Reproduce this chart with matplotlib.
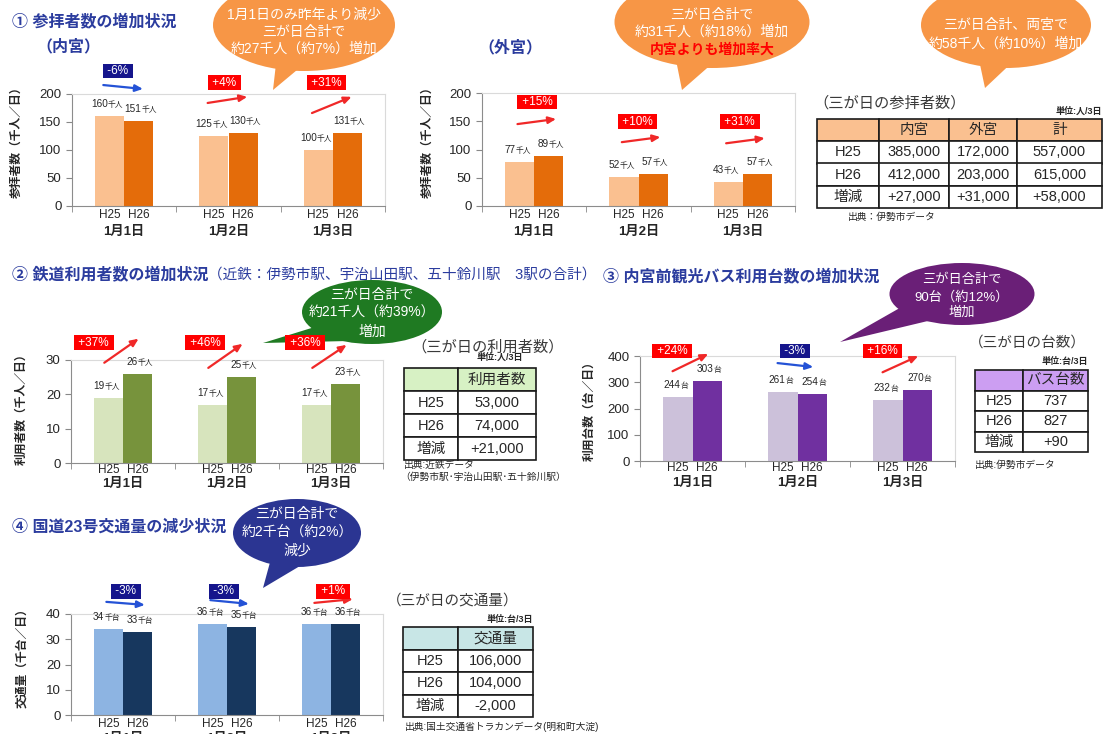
import numpy as np
import matplotlib
matplotlib.use("Agg")
from matplotlib import pyplot as plt
from matplotlib.patches import Ellipse, Polygon

plt.rcParams['font.family'] = ['Liberation Sans', 'Noto Sans CJK JP']

# ---------------- data ----------------
days = ["1月1日", "1月2日", "1月3日"]
years = ["H25", "H26"]

naigu_h25 = [160, 125, 100]   # 内宮 参拝者数 (千人/日)
naigu_h26 = [151, 130, 131]
naigu_pct = ["-6%", "+4%", "+31%"]

gegu_h25 = [77, 52, 43]       # 外宮
gegu_h26 = [89, 57, 57]
gegu_pct = ["+15%", "+10%", "+31%"]

rail_h25 = [19, 17, 17]       # 鉄道利用者数 (千人/日)
rail_h26 = [26, 25, 23]
rail_pct = ["+37%", "+46%", "+36%"]

bus_h25 = [244, 261, 232]     # 観光バス (台/日)
bus_h26 = [303, 254, 270]
bus_pct = ["+24%", "-3%", "+16%"]

road_h25 = [34, 36, 36]       # 国道23号 (千台/日)
road_h26 = [33, 35, 36]
road_pct = ["-3%", "-3%", "+1%"]

# tables
row_names = ["H25", "H26", "増減"]
sanpai_naigu = ["385,000", "412,000", "+27,000"]
sanpai_gegu = ["172,000", "203,000", "+31,000"]
sanpai_total = ["557,000", "615,000", "+58,000"]
rail_total = ["53,000", "74,000", "+21,000"]
bus_total = ["737", "827", "+90"]
road_total = ["106,000", "104,000", "-2,000"]

# ---------------- figure ----------------
W, H = 1105, 734
fig = plt.figure(figsize=(W / 100, H / 100), dpi=100)
TITLE = '#2B3C9E'
TXT = '#262626'


def box(l, t, r, b):
    # axes from pixel box (left, top, right, bottom)
    return fig.add_axes([l / W, 1 - b / H, (r - l) / W, (b - t) / H])


def value_label(ax, x, v, unit, shift, fs=7.2, fsu=5.6):
    num = str(v)
    wn = len(num) * 0.556 * fs
    wu = len(unit) * fsu
    dx = wn - (wn + wu) / 2 + shift
    ax.annotate(num, (x, v), xytext=(dx, 6.5), textcoords='offset points',
                ha='right', va='baseline', fontsize=fs, color=TXT)
    ax.annotate(unit, (x, v), xytext=(dx, 6.5), textcoords='offset points',
                ha='left', va='baseline', fontsize=fsu, color=TXT)


def bar_panel(rect, h25, h26, c25, c26, ymax, step, unit, pct, lay, pad, date_off):
    ax = box(*rect)
    ax.set_facecolor('none')
    x = np.arange(3)
    ax.bar(x - 0.14, h25, 0.28, color=c25, zorder=2)
    ax.bar(x + 0.14, h26, 0.28, color=c26, zorder=2)
    ax.set_xlim(-0.5, 2.5)
    ax.set_ylim(0, ymax)
    ax.set_yticks(np.arange(0, ymax + 1, step))
    ax.tick_params(axis='y', labelsize=9.5, colors=TXT, length=4, color='#888888')
    ax.set_xticks([-0.14, 0.14, 0.86, 1.14, 1.86, 2.14])
    ax.set_xticklabels(years * 3, fontsize=8.5, color=TXT)
    ax.tick_params(axis='x', length=0, pad=pad)
    ax.set_xticks([-0.5, 0.5, 1.5, 2.5], minor=True)
    ax.tick_params(axis='x', which='minor', length=4, color='#888888')
    for s in ['left', 'bottom']:
        ax.spines[s].set_color('#8C8C8C')
    for s in ['top', 'right']:
        ax.spines[s].set_color('#DADADA')
        ax.spines[s].set_linewidth(0.8)
    for i in range(3):
        value_label(ax, i - 0.14, h25[i], unit, -1.5)
        value_label(ax, i + 0.14, h26[i], unit, 1.5)
        ax.annotate(days[i], (i, 0), xycoords=('data', 'axes fraction'),
                    xytext=(0, -date_off), textcoords='offset points',
                    ha='center', va='center', fontsize=9.5, fontweight='bold',
                    color=TXT, annotation_clip=False)
        # change-rate box and arrow
        up = pct[i].startswith('+')
        ax.text(i + lay['dx'][i], lay['by'][i], " " + pct[i] + " ", ha='center', va='center',
                color='white', fontsize=8.5,
                bbox=dict(boxstyle='square,pad=0.12', fc='#FF0000' if up else '#15158C', ec='none'),
                clip_on=False, zorder=5)
        ay0, ay1 = lay['ay'][i]
        ax.annotate('', xy=(i + lay['ax'][1], ay1), xytext=(i + lay['ax'][0], ay0),
                    arrowprops=dict(arrowstyle='-|>,head_length=0.45,head_width=0.2',
                                    color='#F02828' if up else '#2452D6', lw=1.6,
                                    shrinkA=0, shrinkB=0),
                    annotation_clip=False)
    return ax


# ① 内宮
bar_panel((72, 94, 385, 206), naigu_h25, naigu_h26, '#FAC090', '#E46C0A', 200, 50, '千人',
          naigu_pct,
          dict(dx=[-0.06, -0.04, -0.06], by=[241, 220, 220],
               ax=(-0.2, 0.18), ay=[(216, 209), (184, 195), (166, 195)]),
          2, 19)
# ① 外宮
bar_panel((482, 93, 795, 206), gegu_h25, gegu_h26, '#FAC090', '#E46C0A', 200, 50, '千人',
          gegu_pct,
          dict(dx=[0.03, -0.01, -0.03], by=[184, 149, 149],
               ax=(-0.16, 0.21), ay=[(145, 154), (113, 122), (111, 120)]),
          2, 19)
# ② 鉄道
bar_panel((71, 360, 383, 463), rail_h25, rail_h26, '#D7E4BD', '#77933C', 30, 10, '千人',
          rail_pct,
          dict(dx=[-0.28, -0.21, -0.25], by=[35, 35, 35],
               ax=(-0.18, 0.15), ay=[(29.2, 36.2), (27.7, 34.7), (27.7, 34.4)]),
          1, 15)
# ③ バス
bar_panel((640, 356, 955, 461), bus_h25, bus_h26, '#CCC1DA', '#7030A0', 400, 100, '台',
          bus_pct,
          dict(dx=[-0.195, -0.024, -0.19], by=[419, 419, 419],
               ax=(-0.19, 0.15), ay=[(342, 408), (373, 358), (338, 400)]),
          1, 16)
# ④ 国道23号
bar_panel((71, 614, 383, 715), road_h25, road_h26, '#8DB4E2', '#17375E', 40, 10, '千台',
          road_pct,
          dict(dx=[0.03, -0.03, 0.02], by=[49, 49, 49],
               ax=(-0.16, 0.21), ay=[(44.8, 43.6), (45.5, 44.0), (44.4, 45.9)]),
          2, 17)


# ---------------- tables ----------------
def table(rect, header, cols, colw, hdr, fs):
    ax = box(*rect)
    ax.axis('off')
    cells = [header] + [[row_names[i]] + [c[i] for c in cols] for i in range(3)]
    colors = [[hdr] * len(header)] + [['white'] * len(header) for _ in range(3)]
    tb = ax.table(cellText=cells, cellColours=colors, colWidths=colw,
                  cellLoc='center', bbox=[0, 0, 1, 1])
    tb.auto_set_font_size(False)
    tb.set_fontsize(fs)
    for cell in tb.get_celld().values():
        cell.set_linewidth(1.2)
        cell.set_edgecolor('#1A1A1A')
        cell.get_text().set_color(TXT)


table((817, 119, 1102, 208), ["", "内宮", "外宮", "計"],
      [sanpai_naigu, sanpai_gegu, sanpai_total], [62, 70, 68, 85], '#FAC090', 10.5)
table((404, 368, 536, 460), ["", "利用者数"], [rail_total], [54, 78], '#D7F1C4', 10.5)
table((975, 370, 1088, 452), ["", "バス台数"], [bus_total], [48, 65], '#CC9EF2', 10.5)
table((403, 627, 533, 717), ["", "交通量"], [road_total], [55, 75], '#C8E6E6', 10.5)

# ---------------- overlay (drawn under the charts): titles, bubbles, notes ----------------
ov = fig.add_axes([0, 0, 1, 1])
ov.set_zorder(-1)
ov.set_xlim(0, W)
ov.set_ylim(H, 0)
ov.axis('off')


def bubble(cx, cy, w, h, tail, color, lines, fs=10):
    ov.add_patch(Ellipse((cx, cy), w, h, fc=color, ec='none'))
    ov.add_patch(Polygon(tail, closed=True, fc=color, ec='none'))
    for item in lines:
        text, y = item[0], item[1]
        col = item[2] if len(item) > 2 else 'white'
        ov.text(cx, y, text, ha='center', va='center', fontsize=fs, color=col,
                fontweight='bold' if col != 'white' else 'normal')


ORANGE = '#F79646'
bubble(304, 25, 182, 92, [(277, 55), (315, 55), (273, 90)], ORANGE,
       [("1月1日のみ昨年より減少", 15), ("三が日合計で", 32), ("約27千人（約7%）増加", 49)])
bubble(712, 22, 195, 92, [(675, 55), (722, 55), (682, 90)], ORANGE,
       [("三が日合計で", 15), ("約31千人（約18%）増加", 32), ("内宮よりも増加率大", 50, '#FF0000')])
bubble(1006, 25, 170, 86, [(978, 55), (1020, 55), (985, 88)], ORANGE,
       [("三が日合計、両宮で", 25), ("約58千人（約10%）増加", 44)])
bubble(372, 312, 140, 64, [(318, 326), (348, 341), (263, 343)], '#1F7A22',
       [("三が日合計で", 295), ("約21千人（約39%）", 313), ("増加", 332)])
bubble(962, 294, 145, 62, [(905, 305), (932, 320), (840, 342)], '#6A1F77',
       [("三が日合計で", 280), ("90台（約12%）", 297), ("増加", 313)], fs=9.5)
bubble(297, 533, 128, 68, [(272, 555), (305, 563), (263, 588)], '#2B3592',
       [("三が日合計で", 514), ("約2千台（約2%）", 532), ("減少", 551)])

# section headings
ov.text(12, 22, "① 参拝者数の増加状況", fontsize=11.5, fontweight='bold', color=TITLE, va='center')
ov.text(36, 47, "（内宮）", fontsize=11.5, fontweight='bold', color=TITLE, va='center')
ov.text(478, 48, "（外宮）", fontsize=11.5, fontweight='bold', color=TITLE, va='center')
t2 = ov.text(12, 275, "② 鉄道利用者数の増加状況", fontsize=11.5, fontweight='bold', color=TITLE, va='center')
ov.annotate("（近鉄：伊勢市駅、宇治山田駅、五十鈴川駅　3駅の合計）", xy=(1, 0.5), xycoords=t2,
            va='center', ha='left', fontsize=10.5, color=TITLE)
ov.text(603, 277, "③ 内宮前観光バス利用台数の増加状況", fontsize=11.5, fontweight='bold', color=TITLE, va='center')
ov.text(12, 527, "④ 国道23号交通量の減少状況", fontsize=11.5, fontweight='bold', color=TITLE, va='center')

# y-axis titles
for x, y, s in [(17, 139, "参拝者数（千人／日）"), (428, 139, "参拝者数（千人／日）"),
                (22, 406, "利用者数（千人／日）"), (590, 408, "利用台数（台／日）"),
                (22, 655, "交通量（千台／日）")]:
    ov.text(x, y, s, rotation=90, ha='center', va='center', fontsize=8.5,
            fontweight='bold', color=TXT)

# table captions, units and sources
ov.text(813, 103, "（三が日の参拝者数）", fontsize=11, color='#3A3A3A', va='center')
ov.text(1102, 111, "単位:人/3日", fontsize=6.5, fontweight='bold', color=TXT, ha='right', va='center')
ov.text(848, 217, "出典：伊勢市データ", fontsize=7, color=TXT, va='center')

ov.text(411, 347, "（三が日の利用者数）", fontsize=11, color='#3A3A3A', va='center')
ov.text(523, 357, "単位:人/3日", fontsize=6.5, fontweight='bold', color=TXT, ha='right', va='center')
ov.text(404, 465, "出典:近鉄データ", fontsize=7, color=TXT, va='center')
ov.text(400, 477, "（伊勢市駅･宇治山田駅･五十鈴川駅）", fontsize=7, color=TXT, va='center')

ov.text(969, 343, "（三が日の台数）", fontsize=10.5, color='#3A3A3A', va='center')
ov.text(1088, 361, "単位:台/3日", fontsize=6.5, fontweight='bold', color=TXT, ha='right', va='center')
ov.text(975, 465, "出典:伊勢市データ", fontsize=7, color=TXT, va='center')

ov.text(387, 601, "（三が日の交通量）", fontsize=10.5, color='#3A3A3A', va='center')
ov.text(533, 619, "単位:台/3日", fontsize=6.5, fontweight='bold', color=TXT, ha='right', va='center')
ov.text(405, 727, "出典:国土交通省トラカンデータ(明和町大淀)", fontsize=7, color=TXT, va='center')

fig.savefig("out.png", dpi=100)
